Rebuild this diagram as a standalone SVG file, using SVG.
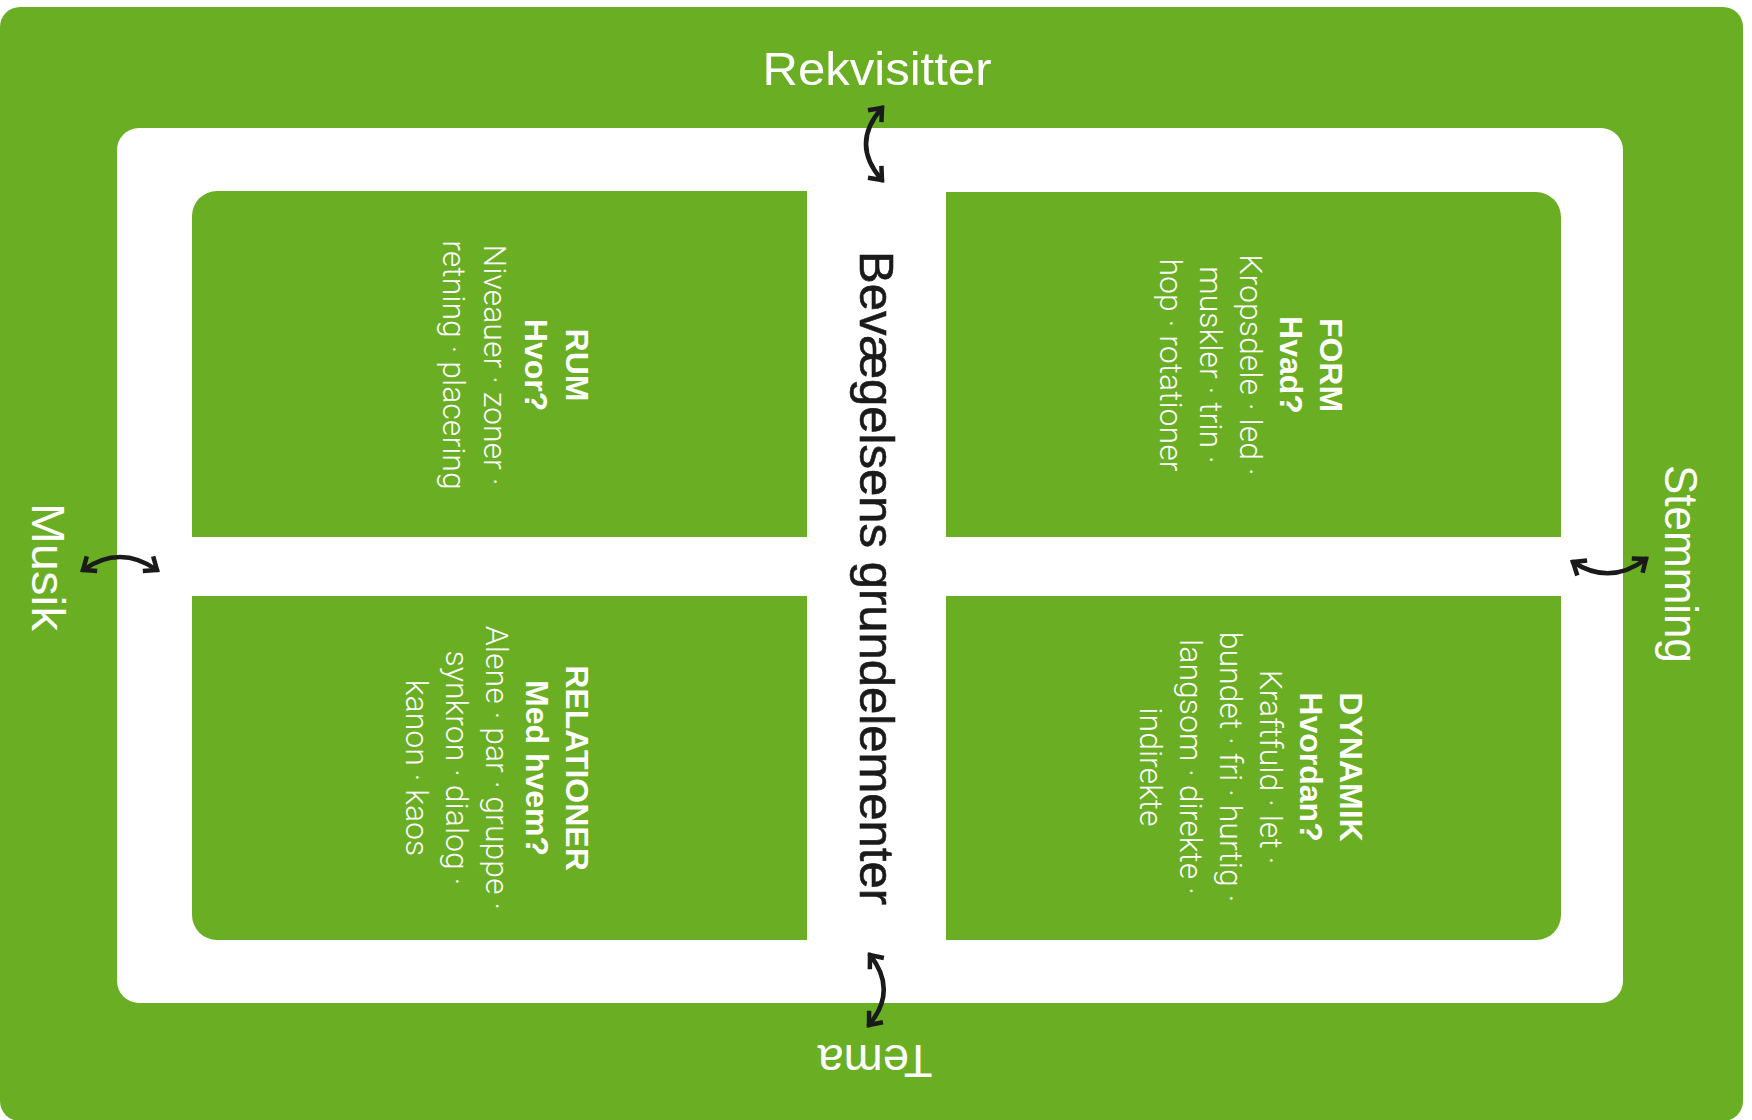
<svg xmlns="http://www.w3.org/2000/svg" width="1752" height="1120" viewBox="0 0 1752 1120">
<style>
.g{fill:#6aae24}
.side{font-family:"Liberation Sans",Arial,sans-serif;font-size:47px;fill:#ffffff}
.q{font-family:Roboto,"Liberation Sans",Arial,sans-serif;font-size:32px;font-weight:300;fill:#ffffff;text-anchor:middle}
.q .b{font-family:"Liberation Sans",Arial,sans-serif;font-weight:700}
.title{font-family:"Liberation Sans",Arial,sans-serif;font-size:49px;fill:#1a1a1a;stroke:#1a1a1a;stroke-width:0.6;text-anchor:middle}
.conn path{fill:none;stroke:#1a1a1a;stroke-width:4.5;stroke-linecap:round}
</style>
<defs>
<marker id="chev" markerUnits="userSpaceOnUse" markerWidth="30" markerHeight="30" viewBox="-20 -15 30 30" refX="0" refY="0" orient="auto-start-reverse">
<path d="M-11,-9 L0,0 L-11,9" fill="none" stroke="#1a1a1a" stroke-width="4.5" stroke-linejoin="miter"/>
</marker>
</defs>
<rect id="outer" class="g" x="0" y="7" width="1743" height="1114" rx="20"/>
<rect id="inner" x="117" y="128" width="1506" height="875" rx="22" fill="#ffffff"/>

<g id="rum">
<path class="g" d="M217,191 H807 V537 H192 V216 A25,25 0 0 1 217,191 Z"/>
<text class="q" transform="translate(566,365) rotate(90)"><tspan class="b" x="0" y="0">RUM</tspan><tspan class="b" x="0" dy="41">Hvor?</tspan><tspan x="0" dy="41">Niveauer · zoner ·</tspan><tspan x="0" dy="41">retning · placering</tspan></text>
</g>
<g id="form">
<path class="g" d="M946,192 H1536 A25,25 0 0 1 1561,217 V537 H946 Z"/>
<text class="q" transform="translate(1320,365) rotate(90)"><tspan class="b" x="0" y="0">FORM</tspan><tspan class="b" x="0" dy="40">Hvad?</tspan><tspan x="0" dy="40">Kropsdele · led ·</tspan><tspan x="0" dy="40">muskler · trin ·</tspan><tspan x="0" dy="40">hop · rotationer</tspan></text>
</g>
<g id="relationer">
<path class="g" d="M192,596 H807 V940 H217 A25,25 0 0 1 192,915 Z"/>
<text class="q" transform="translate(566,768) rotate(90)"><tspan class="b" x="0" y="0">RELATIONER</tspan><tspan class="b" x="0" dy="40">Med hvem?</tspan><tspan x="0" dy="40">Alene · par · gruppe ·</tspan><tspan x="0" dy="40">synkron · dialog ·</tspan><tspan x="0" dy="40">kanon · kaos</tspan></text>
</g>
<g id="dynamik">
<path class="g" d="M946,596 H1561 V915 A25,25 0 0 1 1536,940 H946 Z"/>
<text class="q" transform="translate(1340,767) rotate(90)"><tspan class="b" x="0" y="0">DYNAMIK</tspan><tspan class="b" x="0" dy="40">Hvordan?</tspan><tspan x="0" dy="40">Kraftfuld · let ·</tspan><tspan x="0" dy="40">bundet · fri · hurtig ·</tspan><tspan x="0" dy="40">langsom · direkte ·</tspan><tspan x="0" dy="40">indirekte</tspan></text>
</g>

<g id="title">
<text class="title" transform="translate(860,578) rotate(90)" textLength="654" lengthAdjust="spacingAndGlyphs">Bevægelsens grundelementer</text>
</g>

<g id="rekvisitter"><text class="side" x="877" y="85" text-anchor="middle" textLength="229" lengthAdjust="spacingAndGlyphs">Rekvisitter</text></g>
<g id="musik"><text class="side" transform="translate(32,567) rotate(90)" text-anchor="middle" textLength="128" lengthAdjust="spacingAndGlyphs">Musik</text></g>
<g id="stemming"><text class="side" transform="translate(1665,564) rotate(90)" text-anchor="middle" textLength="198" lengthAdjust="spacingAndGlyphs">Stemming</text></g>
<g id="tema"><text class="side" transform="translate(875,1045) rotate(180)" text-anchor="middle" textLength="115" lengthAdjust="spacingAndGlyphs">Tema</text></g>

<g id="connectors" class="conn">
<path d="M882,108 Q850,144 882,180" marker-start="url(#chev)" marker-end="url(#chev)"/>
<path d="M83,570 Q120,544 157,570" marker-start="url(#chev)" marker-end="url(#chev)"/>
<path d="M1573,562 Q1610,586 1646,559" marker-start="url(#chev)" marker-end="url(#chev)"/>
<path d="M870,955 Q898,990 869,1025" marker-start="url(#chev)" marker-end="url(#chev)"/>
</g>
</svg>
